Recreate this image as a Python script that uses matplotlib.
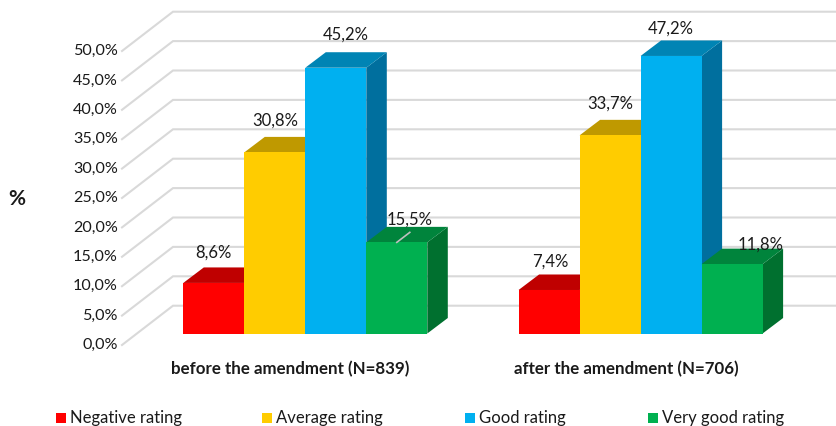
import matplotlib
matplotlib.use("Agg")
import matplotlib.pyplot as plt

# ---- data ----
groups = ["before the amendment (N=839)", "after the amendment (N=706)"]
series = ["Negative rating", "Average rating", "Good rating", "Very good rating"]
before = [8.6, 30.8, 45.2, 15.5]
after = [7.4, 33.7, 47.2, 11.8]
ticks = [0, 5, 10, 15, 20, 25, 30, 35, 40, 45, 50]

# ---- style ----
front = ["#FF0000", "#FFCC00", "#00B0F0", "#00B050"]
top = ["#BF0000", "#BF9900", "#0084B4", "#00843C"]
side = ["#A80000", "#A88700", "#006F9E", "#00702F"]
grid = "#D9D9D9"
txt = "#1A1A1A"
plt.rcParams["font.family"] = ["Lato", "DejaVu Sans"]

W, H = 837, 426
PX = 5.88          # pixels per percentage point
BASE = 333.5       # pixel row of the bars' base
def v_of(py):      # pixel row -> value
    return (BASE - py) / PX

fig = plt.figure(figsize=(W / 100, H / 100), dpi=100)
ax = fig.add_axes([0, 0, 1, 1])
ax.set_xlim(0, W)
ax.set_ylim(v_of(H), v_of(0))
ax.axis("off")

# grid: floor offset of the walls relative to the bars' plane
front_x, back_x = 122, 173
front_dv = v_of(345)
back_dv = v_of(305.7)
for t in ticks:
    ax.plot([front_x, back_x, W], [t + front_dv, t + back_dv, t + back_dv],
            color=grid, lw=1.5, zorder=1, solid_joinstyle="miter")
    ax.text(118, t + front_dv + 0.0, f"{t},0%", ha="right", va="center",
            fontsize=11.6, color=txt)

# bars
BW = 61
DX, DV = 20.5, 15.5 / PX
starts = [183.3, 518.6]
z = 2
for vals, x0 in zip([before, after], starts):
    for i, v in enumerate(vals):
        x = x0 + i * BW
        ax.fill([x + BW, x + BW + DX, x + BW + DX, x + BW],
                [0, DV, v + DV, v], color=side[i], lw=0, zorder=z)
        ax.fill([x, x + DX, x + BW + DX, x + BW],
                [v, v + DV, v + DV, v], color=top[i], lw=0, zorder=z)
        ax.bar(x, v, width=BW, align="edge", color=front[i], lw=0, zorder=z)
        z += 1

# value labels: (dx px, dy px) from the top centre of each bar's front face
offs = [[(0, 30), (0, 32), (10, 32.7), (13, 23)],
        [(1, 28), (0, 32), (0, 27), (28, 19)]]
for vals, x0, off in zip([before, after], starts, offs):
    for i, v in enumerate(vals):
        dx, dy = off[i]
        ax.text(x0 + (i + .5) * BW + dx, v + dy / PX, f"{v:.1f}".replace(".", ",") + "%",
                ha="center", va="center", fontsize=12, color=txt, zorder=50)
# leader line
lx = starts[0] + 3.5 * BW
ax.plot([lx, lx + 13], [before[3], before[3] + 10 / PX], color="#BFBFBF", lw=1.2, zorder=40)

# category labels
for g, cx in zip(groups, [290.5, 626]):
    ax.text(cx, v_of(369), g, ha="center", va="center", fontsize=12.2,
            fontweight="bold", color=txt)

# y title
ax.text(17, v_of(199), "%", ha="center", va="center", fontsize=15, fontweight="bold", color=txt)

# legend
sq = [56, 262, 465, 648]
for s, c, x in zip(series, front, sq):
    ax.fill([x, x + 10, x + 10, x],
            [v_of(423), v_of(423), v_of(413), v_of(413)], color=c, lw=0)
    ax.text(x + 14.5, v_of(418), s, ha="left", va="center", fontsize=12, color=txt)

fig.savefig("out.png", dpi=100)
